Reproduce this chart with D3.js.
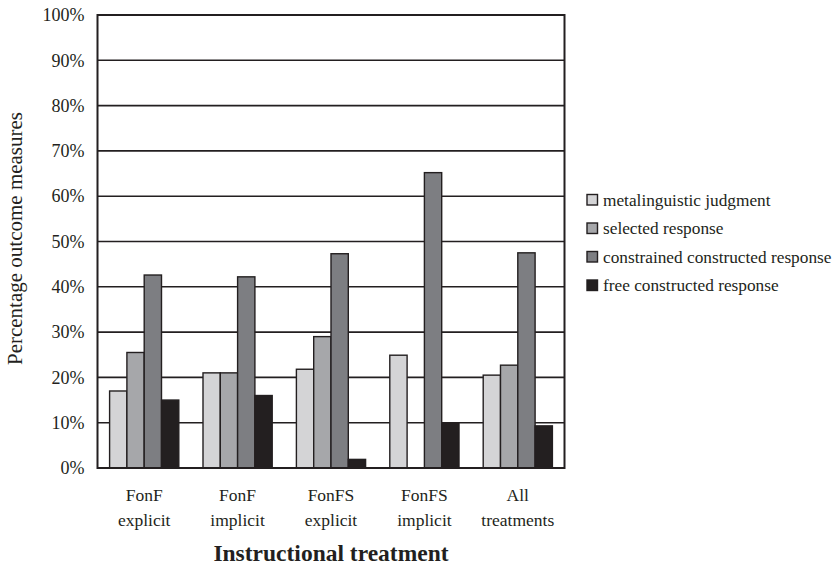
<!DOCTYPE html>
<html><head><meta charset="utf-8">
<script src="https://cdn.jsdelivr.net/npm/d3@7"></script>
<style>body{margin:0;background:#fff}text{font-family:"Liberation Serif","Times New Roman",serif;fill:#231f20}</style>
</head><body><svg id="c" width="837" height="567"></svg>
<script>
const categories = [["FonF","explicit"],["FonF","implicit"],["FonFS","explicit"],["FonFS","implicit"],["All","treatments"]];
const seriesNames = ["metalinguistic judgment","selected response","constrained constructed response","free constructed response"];
const metalinguistic = [17.0, 21.0, 21.8, 24.9, 20.5];
const selected = [25.5, 21.0, 29.0, 0, 22.7];
const constrained = [42.6, 42.2, 47.3, 65.2, 47.5];
const free = [15.0, 16.0, 1.9, 10.0, 9.3];
const colors = ["#d4d4d6","#a6a7aa","#7d7e82","#231f20"];
const yTicks = [0,10,20,30,40,50,60,70,80,90,100];
const seriesVals = [metalinguistic, selected, constrained, free];

const svg = d3.select("#c");
const L=97.5, R=564.5, T=15, B=468;
const x = d3.scaleBand().domain(d3.range(categories.length)).range([L,R]).paddingInner(0).paddingOuter(0);
const y = d3.scaleLinear().domain([0,100]).range([B,T]);
const bw = 17.3;
const xs = d3.scaleBand().domain(d3.range(4)).range([0, bw*4]);

// gridlines
svg.append("g").selectAll("line").data(yTicks.filter(d=>d>0)).join("line")
  .attr("x1",L).attr("x2",R).attr("y1",d=>y(d)).attr("y2",d=>y(d))
  .attr("stroke","#231f20").attr("stroke-width",1.6);

// y axis labels
const yAxis = d3.axisLeft(y).tickValues(yTicks).tickFormat(d=>d+"%").tickSize(0).tickPadding(13);
const ga = svg.append("g").attr("transform",`translate(${L},0)`).call(yAxis);
ga.select(".domain").remove();
ga.selectAll("text").style("font-size","18px").style("font-family","Liberation Serif").style("fill","#231f20");

// bars
categories.forEach((c,i)=>{
  const gx = x(i) + (x.bandwidth()-bw*4)/2;
  seriesVals.forEach((s,j)=>{
    if(s[i]<=0) return;
    svg.append("rect").attr("x",gx+xs(j)).attr("y",y(s[i])).attr("width",xs.bandwidth()).attr("height",B-y(s[i]))
      .attr("fill",colors[j]).attr("stroke","#231f20").attr("stroke-width",1.4);
  });
});

// frame
svg.append("rect").attr("x",L).attr("y",T).attr("width",R-L).attr("height",B-T)
  .attr("fill","none").attr("stroke","#231f20").attr("stroke-width",2);

// x labels
const xl = svg.append("g");
categories.forEach((c,i)=>{
  const cx = x(i)+x.bandwidth()/2;
  const t = xl.append("text").attr("x",cx).attr("text-anchor","middle").style("font-size","17.5px");
  t.append("tspan").attr("x",cx).attr("y",501).text(c[0]);
  t.append("tspan").attr("x",cx).attr("y",526).text(c[1]);
});

svg.append("text").attr("x",(L+R)/2).attr("y",561).attr("text-anchor","middle")
  .style("font-size","23.5px").style("font-weight","bold").text("Instructional treatment");

svg.append("text").attr("transform",`translate(22,${(T+B)/2 - 3}) rotate(-90)`).attr("text-anchor","middle")
  .style("font-size","21px").text("Percentage outcome measures");

// legend
const lg = svg.append("g");
seriesNames.forEach((n,j)=>{
  const yy = 200 + j*28.5;
  lg.append("rect").attr("x",587).attr("y",yy-5.5).attr("width",10.5).attr("height",10.5)
    .attr("fill",colors[j]).attr("stroke","#231f20").attr("stroke-width",1.4);
  lg.append("text").attr("x",603).attr("y",yy+5.5).style("font-size","17.3px").text(n);
});
</script></body></html>
